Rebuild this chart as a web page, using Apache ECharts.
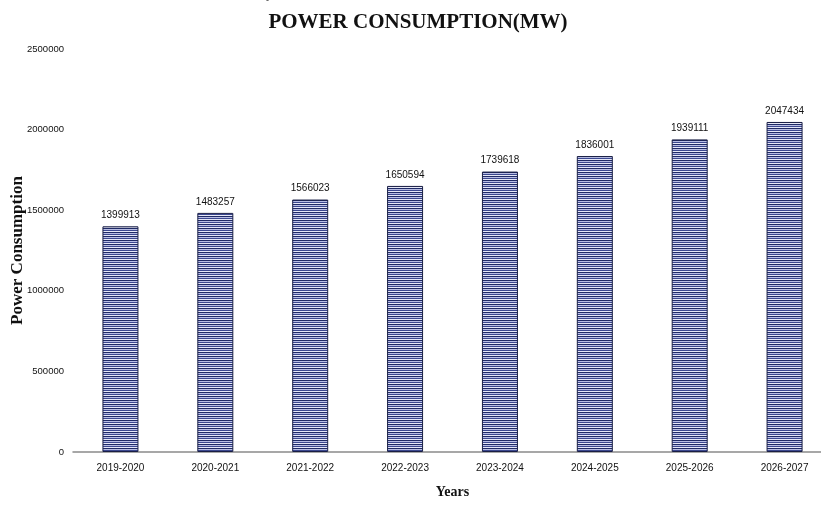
<!DOCTYPE html>
<html><head><meta charset="utf-8">
<script src="https://cdn.jsdelivr.net/npm/echarts@6/dist/echarts.min.js"></script>
<style>html,body{margin:0;padding:0;background:#fff}#c{width:821px;height:510px}</style>
</head><body><div id="c"></div>
<script>
var categories = ['2019-2020','2020-2021','2021-2022','2022-2023','2023-2024','2024-2025','2025-2026','2026-2027'];
var values = [1399913,1483257,1566023,1650594,1739618,1836001,1939111,2047434];

var pc = document.createElement('canvas');
pc.width = 8; pc.height = 4;
var g = pc.getContext('2d');
var rows = ['#1f2a66','#b8bde4','#3c4890','#e6e8f7'];
for (var i = 0; i < rows.length; i++) { g.fillStyle = rows[i]; g.fillRect(0, i, 8, 1); }

var chart = echarts.init(document.getElementById('c'), null, {renderer:'canvas'});
chart.setOption({
  animation: false,
  title: {
    text: 'POWER CONSUMPTION(MW)',
    left: 413, top: 7, textAlign: 'center',
    textStyle: {fontFamily: 'Liberation Serif', fontWeight: 'bold', fontSize: 21, color: '#111'}
  },
  graphic: [{type:'text', left: 266, top: -4, style:{text:'-', fontSize: 9, fill:'#333', fontFamily:'Liberation Sans'}}],
  grid: {left: 73, top: 49, width: 759, bottom: 58, containLabel: false, outerBoundsMode: 'none'},
  xAxis: {
    type: 'category', data: categories,
    name: 'Years', nameLocation: 'middle', nameGap: 33, nameMoveOverlap: false,
    nameTextStyle: {fontFamily: 'Liberation Serif', fontWeight: 'bold', fontSize: 14, color: '#111'},
    axisLine: {lineStyle: {color: '#8a8a8a', width: 1.5}},
    axisTick: {show: false},
    axisLabel: {margin: 11, fontFamily: 'Liberation Sans', fontSize: 10, color: '#111'}
  },
  yAxis: {
    type: 'value', min: 0, max: 2500000, interval: 500000,
    name: 'Power Consumption', nameLocation: 'middle', nameGap: 47, nameRotate: 90, nameMoveOverlap: false,
    nameTextStyle: {fontFamily: 'Liberation Serif', fontWeight: 'bold', fontSize: 17, color: '#111'},
    axisLine: {show: false}, axisTick: {show: false}, splitLine: {show: false},
    axisLabel: {margin: 9, fontFamily: 'Liberation Sans', fontSize: 9.5, color: '#111', formatter: function(v){return String(v);}}
  },
  series: [{
    type: 'bar', data: values, barWidth: 36,
    itemStyle: {color: {image: pc, repeat: 'repeat'}, borderColor: '#1a1f45', borderWidth: 1},
    label: {show: true, position: 'top', distance: 6, fontFamily: 'Liberation Sans', fontSize: 10, color: '#111'}
  }]
});
</script></body></html>
